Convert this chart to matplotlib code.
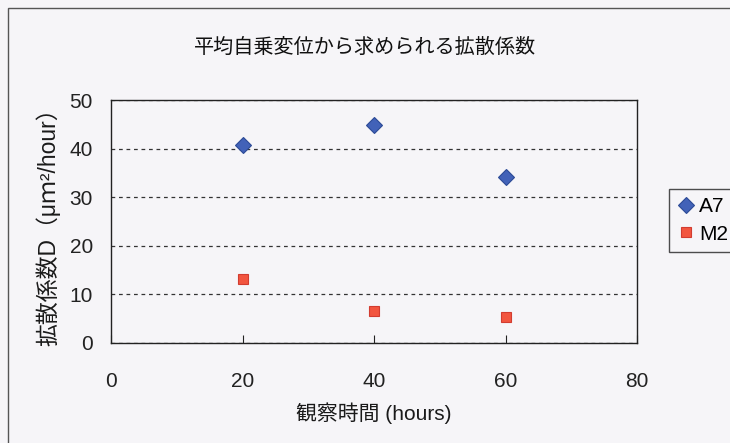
import matplotlib
matplotlib.use("Agg")
import matplotlib.pyplot as plt
from matplotlib import font_manager
from matplotlib.patches import Rectangle

# --- data ---
hours = [20, 40, 60]
a7_D = [40.7, 44.8, 34.1]
m2_D = [13.2, 6.5, 5.4]
series_names = ["A7", "M2"]
x_ticks = [0, 20, 40, 60, 80]
y_ticks = [0, 10, 20, 30, 40, 50]
title = "平均自乗変位から求められる拡散係数"
x_label = "観察時間 (hours)"
y_label = "拡散係数D（μｍ²/hour）"

# --- fonts ---
installed = {f.name for f in font_manager.fontManager.ttflist}
narrow = "Liberation Sans Narrow" if "Liberation Sans Narrow" in installed else "Liberation Sans"
cjk = "Noto Sans CJK JP"
plt.rcParams["font.family"] = [narrow, cjk, "DejaVu Sans"]

BG = "#f6f5f8"
W, H = 730, 443
PX = 72 / 100  # points per pixel at dpi 100

fig = plt.figure(figsize=(W / 100, H / 100), dpi=100, facecolor=BG)

# outer chart frame (runs off the right and bottom edges)
fig.patches.append(Rectangle((8 / W, -0.05), 1.2, 1 - 8 / H + 0.05,
                             transform=fig.transFigure, fill=False,
                             edgecolor="#555555", linewidth=1.0))

left, right, top, bottom = 111, 637, 100, 343
ax = fig.add_axes([left / W, 1 - bottom / H, (right - left) / W, (bottom - top) / H])
ax.set_facecolor(BG)

ax.set_xlim(0, 80)
ax.set_ylim(0, 50)
ax.set_xticks(x_ticks)
ax.set_yticks(y_ticks)
ax.tick_params(axis="x", direction="in", length=6, width=0.8, pad=29 * PX,
               labelsize=15, colors="#222222")
ax.tick_params(axis="y", length=0, pad=18 * PX, labelsize=15, colors="#222222")
for sp in ax.spines.values():
    sp.set_color("#222222")
    sp.set_linewidth(1.0)

# horizontal dashed gridlines
ax.yaxis.grid(True, color="#333333", linestyle=(0, (3, 3)), linewidth=0.9)
ax.set_axisbelow(True)

ax.plot(hours, a7_D, linestyle="none", marker="D", markersize=8.5,
        markerfacecolor="#4262b8", markeredgecolor="#2c4a96", markeredgewidth=0.8,
        label=series_names[0], clip_on=False, zorder=3)
ax.plot(hours, m2_D, linestyle="none", marker="s", markersize=7.8,
        markerfacecolor="#f2553f", markeredgecolor="#d23c30", markeredgewidth=0.8,
        label=series_names[1], clip_on=False, zorder=3)

# titles and axis labels
fig.text(365 / W, 1 - 47.5 / H, title, ha="center", va="center",
         fontsize=14.5, family=[cjk], color="#111111")
ax.set_xlabel(x_label, fontsize=15, color="#1a1a1a", va="center")
ax.xaxis.set_label_coords(0.5, (bottom - 413) / (bottom - top))
ax.set_ylabel(y_label, fontsize=16.5, color="#1a1a1a", va="center", ha="center")
ax.yaxis.set_label_coords((48 - left) / (right - left), 0.5)

leg = ax.legend(loc="center left",
                bbox_to_anchor=(669 / W, 1 - 220.5 / H),
                bbox_transform=fig.transFigure,
                fontsize=15, frameon=True, fancybox=False,
                handlelength=0.8, handletextpad=0.25, borderpad=0.4,
                labelspacing=0.4, borderaxespad=0.0, markerscale=0.9)
leg.get_frame().set_edgecolor("#222222")
leg.get_frame().set_linewidth(1.0)
leg.get_frame().set_facecolor(BG)

fig.savefig("out.png", dpi=100, facecolor=BG)
